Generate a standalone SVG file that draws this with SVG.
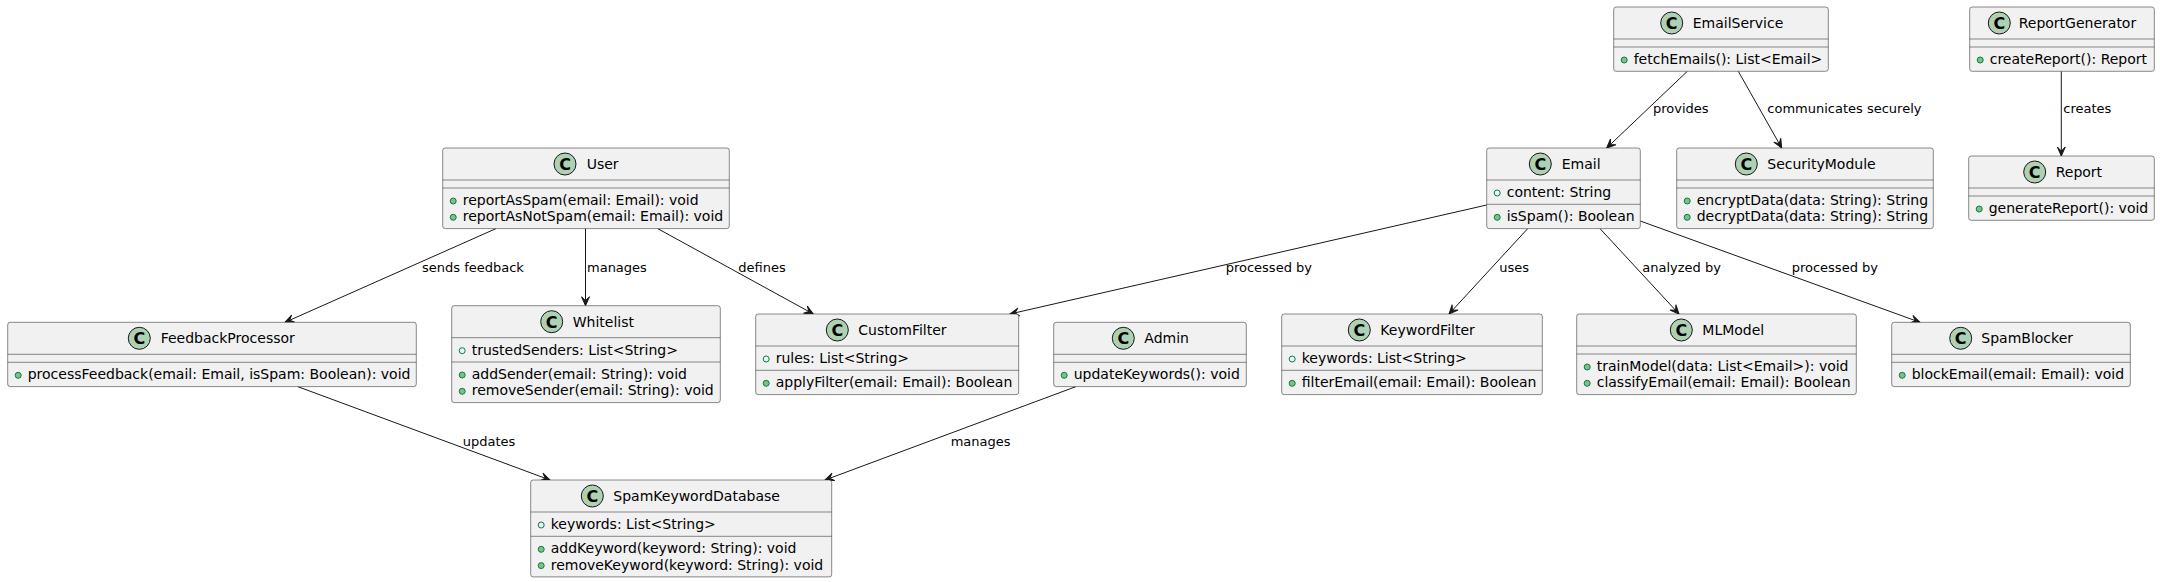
<svg xmlns="http://www.w3.org/2000/svg" width="2160" height="582" viewBox="0 0 2160 582">
<style>
.box{fill:#F1F1F1;stroke:#181818;stroke-width:0.5}
.sep{stroke:#181818;stroke-width:0.5}
.ic{fill:#ADD1B2;stroke:#181818;stroke-width:1}
.icl{font-family:"DejaVu Sans",sans-serif;font-size:16px;font-weight:bold;fill:#000;text-anchor:middle}
.t{font-family:"DejaVu Sans",sans-serif;font-size:14px;fill:#000}
.m{font-family:"DejaVu Sans",sans-serif;font-size:14px;fill:#000}
.lbl{font-family:"DejaVu Sans",sans-serif;font-size:13px;fill:#000}
.fb{fill:none;stroke:#038048;stroke-width:1}
.mb{fill:#84BE84;stroke:#038048;stroke-width:1}
.edge{fill:none;stroke:#181818;stroke-width:1;marker-end:url(#arr)}
</style>
<defs>
<marker id="arr" viewBox="-10 -5 11 10" refX="0" refY="0" markerWidth="11" markerHeight="10" markerUnits="userSpaceOnUse" orient="auto">
<path d="M0,0 L-9,-4 L-5,0 L-9,4 Z" fill="#181818" stroke="#181818" stroke-width="1"/>
</marker>
</defs>
<rect x="0" y="0" width="2160" height="582" fill="#FFFFFF"/>

<g id="connectors">
<line class="edge" x1="496" y1="228.6" x2="285" y2="322.3"/>
<text class="lbl" x="422" y="271.7">sends feedback</text>
<line class="edge" x1="585.5" y1="228.6" x2="585.5" y2="305.7"/>
<text class="lbl" x="587" y="271.7">manages</text>
<line class="edge" x1="657.7" y1="228.6" x2="813.3" y2="314"/>
<text class="lbl" x="738.3" y="271.7">defines</text>
<line class="edge" x1="1486.7" y1="205" x2="1010" y2="314"/>
<text class="lbl" x="1225.7" y="271.7">processed by</text>
<line class="edge" x1="1527.7" y1="228.6" x2="1449" y2="314"/>
<text class="lbl" x="1499.3" y="271.7">uses</text>
<line class="edge" x1="1600" y1="228.6" x2="1679" y2="314"/>
<text class="lbl" x="1642.3" y="271.7">analyzed by</text>
<line class="edge" x1="1640.3" y1="221" x2="1920" y2="322.3"/>
<text class="lbl" x="1791.7" y="271.7">processed by</text>
<line class="edge" x1="1687.3" y1="71.3" x2="1606.7" y2="148"/>
<text class="lbl" x="1653" y="113.3">provides</text>
<line class="edge" x1="1738.3" y1="71.3" x2="1781.7" y2="148"/>
<text class="lbl" x="1767.3" y="113.3">communicates securely</text>
<line class="edge" x1="2061.3" y1="71.3" x2="2061.3" y2="156"/>
<text class="lbl" x="2063.3" y="113.3">creates</text>
<line class="edge" x1="297.7" y1="386.6" x2="550" y2="480"/>
<text class="lbl" x="462.7" y="446">updates</text>
<line class="edge" x1="1076" y1="386.6" x2="825" y2="480"/>
<text class="lbl" x="950.7" y="446">manages</text>
</g>

<g id="EmailService">
<rect class="box" x="1613.7" y="7" width="214.6" height="64.3" rx="2.5"/>
<circle class="ic" cx="1671.7" cy="23" r="11"/><text class="icl" x="1671.7" y="29">C</text>
<text class="t" x="1692.7" y="28">EmailService</text>
<line class="sep" x1="1613.7" y1="39" x2="1828.3" y2="39"/>
<line class="sep" x1="1613.7" y1="47" x2="1828.3" y2="47"/>
<circle class="mb" cx="1624.2" cy="60" r="3"/><text class="m" x="1633.7" y="64">fetchEmails(): List&lt;Email&gt;</text>
</g>

<g id="ReportGenerator">
<rect class="box" x="1969.7" y="7" width="184.6" height="64.3" rx="2.5"/>
<circle class="ic" cx="1999.3" cy="23" r="11"/><text class="icl" x="1999.3" y="29">C</text>
<text class="t" x="2018.7" y="28">ReportGenerator</text>
<line class="sep" x1="1969.7" y1="39" x2="2154.3" y2="39"/>
<line class="sep" x1="1969.7" y1="47" x2="2154.3" y2="47"/>
<circle class="mb" cx="1980.2" cy="60" r="3"/><text class="m" x="1989.7" y="64">createReport(): Report</text>
</g>

<g id="Email">
<rect class="box" x="1486.7" y="148" width="153.6" height="80.6" rx="2.5"/>
<circle class="ic" cx="1540.3" cy="164" r="11"/><text class="icl" x="1540.3" y="170">C</text>
<text class="t" x="1561.7" y="169">Email</text>
<line class="sep" x1="1486.7" y1="180" x2="1640.3" y2="180"/>
<circle class="fb" cx="1497.2" cy="193" r="3"/><text class="m" x="1506.7" y="197">content: String</text>
<line class="sep" x1="1486.7" y1="204.3" x2="1640.3" y2="204.3"/>
<circle class="mb" cx="1497.2" cy="217.3" r="3"/><text class="m" x="1506.7" y="221.3">isSpam(): Boolean</text>
</g>

<g id="SecurityModule">
<rect class="box" x="1676.7" y="148" width="256.6" height="80.6" rx="2.5"/>
<circle class="ic" cx="1746.3" cy="164" r="11"/><text class="icl" x="1746.3" y="170">C</text>
<text class="t" x="1767.3" y="169">SecurityModule</text>
<line class="sep" x1="1676.7" y1="180" x2="1933.3" y2="180"/>
<line class="sep" x1="1676.7" y1="188" x2="1933.3" y2="188"/>
<circle class="mb" cx="1687.2" cy="201" r="3"/><text class="m" x="1696.7" y="205">encryptData(data: String): String</text>
<circle class="mb" cx="1687.2" cy="217.3" r="3"/><text class="m" x="1696.7" y="221.3">decryptData(data: String): String</text>
</g>

<g id="Report">
<rect class="box" x="1968.7" y="156" width="185.6" height="64.3" rx="2.5"/>
<circle class="ic" cx="2034.7" cy="172" r="11"/><text class="icl" x="2034.7" y="178">C</text>
<text class="t" x="2055.7" y="177">Report</text>
<line class="sep" x1="1968.7" y1="188" x2="2154.3" y2="188"/>
<line class="sep" x1="1968.7" y1="196" x2="2154.3" y2="196"/>
<circle class="mb" cx="1979.2" cy="209" r="3"/><text class="m" x="1988.7" y="213">generateReport(): void</text>
</g>

<g id="User">
<rect class="box" x="442.7" y="148" width="286.6" height="80.6" rx="2.5"/>
<circle class="ic" cx="565" cy="164" r="11"/><text class="icl" x="565" y="170">C</text>
<text class="t" x="586.7" y="169">User</text>
<line class="sep" x1="442.7" y1="180" x2="729.3" y2="180"/>
<line class="sep" x1="442.7" y1="188" x2="729.3" y2="188"/>
<circle class="mb" cx="453.2" cy="201" r="3"/><text class="m" x="462.7" y="205">reportAsSpam(email: Email): void</text>
<circle class="mb" cx="453.2" cy="217.3" r="3"/><text class="m" x="462.7" y="221.3">reportAsNotSpam(email: Email): void</text>
</g>

<g id="FeedbackProcessor">
<rect class="box" x="7.7" y="322.3" width="408.6" height="64.3" rx="2.5"/>
<circle class="ic" cx="139.3" cy="338.3" r="11"/><text class="icl" x="139.3" y="344.3">C</text>
<text class="t" x="160.7" y="343.3">FeedbackProcessor</text>
<line class="sep" x1="7.7" y1="354.3" x2="416.3" y2="354.3"/>
<line class="sep" x1="7.7" y1="362.3" x2="416.3" y2="362.3"/>
<circle class="mb" cx="18.2" cy="375.3" r="3"/><text class="m" x="27.7" y="379.3">processFeedback(email: Email, isSpam: Boolean): void</text>
</g>

<g id="Whitelist">
<rect class="box" x="451.7" y="305.7" width="268.6" height="96.9" rx="2.5"/>
<circle class="ic" cx="551.7" cy="321.7" r="11"/><text class="icl" x="551.7" y="327.7">C</text>
<text class="t" x="572.7" y="326.7">Whitelist</text>
<line class="sep" x1="451.7" y1="337.7" x2="720.3" y2="337.7"/>
<circle class="fb" cx="462.2" cy="350.7" r="3"/><text class="m" x="471.7" y="354.7">trustedSenders: List&lt;String&gt;</text>
<line class="sep" x1="451.7" y1="362" x2="720.3" y2="362"/>
<circle class="mb" cx="462.2" cy="375" r="3"/><text class="m" x="471.7" y="379">addSender(email: String): void</text>
<circle class="mb" cx="462.2" cy="391.3" r="3"/><text class="m" x="471.7" y="395.3">removeSender(email: String): void</text>
</g>

<g id="CustomFilter">
<rect class="box" x="755.7" y="314" width="263" height="80.6" rx="2.5"/>
<circle class="ic" cx="837.3" cy="330" r="11"/><text class="icl" x="837.3" y="336">C</text>
<text class="t" x="858.3" y="335">CustomFilter</text>
<line class="sep" x1="755.7" y1="346" x2="1018.7" y2="346"/>
<circle class="fb" cx="766.2" cy="359" r="3"/><text class="m" x="775.7" y="363">rules: List&lt;String&gt;</text>
<line class="sep" x1="755.7" y1="370.3" x2="1018.7" y2="370.3"/>
<circle class="mb" cx="766.2" cy="383.3" r="3"/><text class="m" x="775.7" y="387.3">applyFilter(email: Email): Boolean</text>
</g>

<g id="Admin">
<rect class="box" x="1053.7" y="322.3" width="192.6" height="64.3" rx="2.5"/>
<circle class="ic" cx="1123.3" cy="338.3" r="11"/><text class="icl" x="1123.3" y="344.3">C</text>
<text class="t" x="1144.3" y="343.3">Admin</text>
<line class="sep" x1="1053.7" y1="354.3" x2="1246.3" y2="354.3"/>
<line class="sep" x1="1053.7" y1="362.3" x2="1246.3" y2="362.3"/>
<circle class="mb" cx="1064.2" cy="375.3" r="3"/><text class="m" x="1073.7" y="379.3">updateKeywords(): void</text>
</g>

<g id="KeywordFilter">
<rect class="box" x="1281.7" y="314" width="260.6" height="80.6" rx="2.5"/>
<circle class="ic" cx="1359.3" cy="330" r="11"/><text class="icl" x="1359.3" y="336">C</text>
<text class="t" x="1380.3" y="335">KeywordFilter</text>
<line class="sep" x1="1281.7" y1="346" x2="1542.3" y2="346"/>
<circle class="fb" cx="1292.2" cy="359" r="3"/><text class="m" x="1301.7" y="363">keywords: List&lt;String&gt;</text>
<line class="sep" x1="1281.7" y1="370.3" x2="1542.3" y2="370.3"/>
<circle class="mb" cx="1292.2" cy="383.3" r="3"/><text class="m" x="1301.7" y="387.3">filterEmail(email: Email): Boolean</text>
</g>

<g id="MLModel">
<rect class="box" x="1576.7" y="314" width="279.6" height="80.6" rx="2.5"/>
<circle class="ic" cx="1681.3" cy="330" r="11"/><text class="icl" x="1681.3" y="336">C</text>
<text class="t" x="1702.3" y="335">MLModel</text>
<line class="sep" x1="1576.7" y1="346" x2="1856.3" y2="346"/>
<line class="sep" x1="1576.7" y1="354" x2="1856.3" y2="354"/>
<circle class="mb" cx="1587.2" cy="367" r="3"/><text class="m" x="1596.7" y="371">trainModel(data: List&lt;Email&gt;): void</text>
<circle class="mb" cx="1587.2" cy="383.3" r="3"/><text class="m" x="1596.7" y="387.3">classifyEmail(email: Email): Boolean</text>
</g>

<g id="SpamBlocker">
<rect class="box" x="1891.7" y="322.3" width="238.6" height="64.3" rx="2.5"/>
<circle class="ic" cx="1960.7" cy="338.3" r="11"/><text class="icl" x="1960.7" y="344.3">C</text>
<text class="t" x="1981.3" y="343.3">SpamBlocker</text>
<line class="sep" x1="1891.7" y1="354.3" x2="2130.3" y2="354.3"/>
<line class="sep" x1="1891.7" y1="362.3" x2="2130.3" y2="362.3"/>
<circle class="mb" cx="1902.2" cy="375.3" r="3"/><text class="m" x="1911.7" y="379.3">blockEmail(email: Email): void</text>
</g>

<g id="SpamKeywordDatabase">
<rect class="box" x="530.7" y="480" width="301" height="96.9" rx="2.5"/>
<circle class="ic" cx="592.3" cy="496" r="11"/><text class="icl" x="592.3" y="502">C</text>
<text class="t" x="613.3" y="501">SpamKeywordDatabase</text>
<line class="sep" x1="530.7" y1="512" x2="831.7" y2="512"/>
<circle class="fb" cx="541.2" cy="525" r="3"/><text class="m" x="550.7" y="529">keywords: List&lt;String&gt;</text>
<line class="sep" x1="530.7" y1="536.3" x2="831.7" y2="536.3"/>
<circle class="mb" cx="541.2" cy="549.3" r="3"/><text class="m" x="550.7" y="553.3">addKeyword(keyword: String): void</text>
<circle class="mb" cx="541.2" cy="565.6" r="3"/><text class="m" x="550.7" y="569.6">removeKeyword(keyword: String): void</text>
</g>
</svg>
